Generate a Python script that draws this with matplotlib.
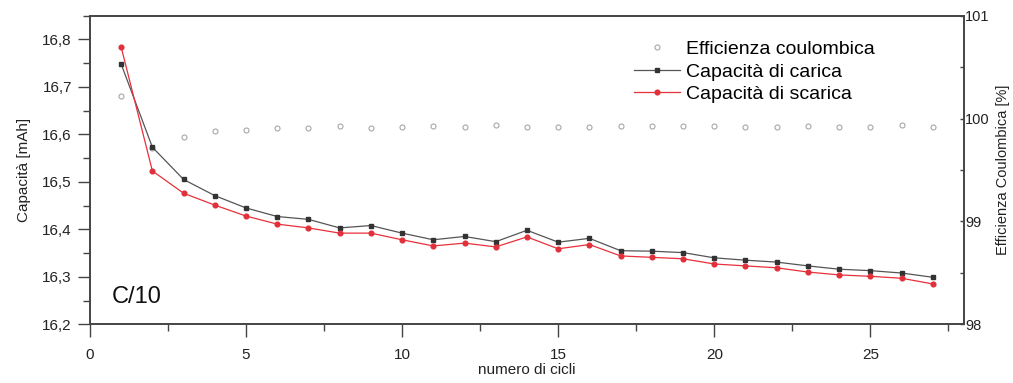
import numpy as np
import matplotlib.pyplot as plt
from matplotlib.ticker import MultipleLocator, FuncFormatter

plt.rcParams['font.family'] = ['Liberation Sans', 'DejaVu Sans']

# cycling data at C/10
cicli = list(range(1, 28))
carica = [16.748, 16.573, 16.505, 16.471, 16.445, 16.427, 16.421, 16.403, 16.408,
          16.392, 16.378, 16.385, 16.374, 16.398, 16.373, 16.381, 16.355, 16.354,
          16.351, 16.340, 16.335, 16.331, 16.323, 16.316, 16.313, 16.308, 16.299]
scarica = [16.784, 16.523, 16.476, 16.451, 16.428, 16.411, 16.403, 16.392, 16.392,
           16.378, 16.365, 16.371, 16.363, 16.384, 16.359, 16.368, 16.344, 16.341,
           16.338, 16.327, 16.323, 16.319, 16.310, 16.304, 16.301, 16.297, 16.285]
efficienza = [100.216, 99.71, 99.823, 99.879, 99.891, 99.905, 99.905, 99.93, 99.905,
              99.92, 99.924, 99.915, 99.934, 99.917, 99.92, 99.92, 99.93, 99.924,
              99.927, 99.927, 99.92, 99.92, 99.93, 99.92, 99.92, 99.937, 99.917]

comma = FuncFormatter(lambda v, p: ('%.1f' % v).replace('.', ','))

fig = plt.figure(figsize=(10.13, 3.83), dpi=100)
ax = fig.add_axes([0.0888, 0.1533, 0.8628, 0.8057])
ax2 = ax.twinx()

ax.set_zorder(ax2.get_zorder() + 1)
ax.patch.set_visible(False)

eff, = ax2.plot(cicli, efficienza, linestyle='', marker='o', ms=3.6, mfc='white',
                mec='#a8a8a8', mew=0.8, label='Efficienza coulombica')
l1, = ax.plot(cicli, carica, color='#555555', lw=0.9, marker='s', ms=3.2,
              mfc='#333333', mec='#333333', label='Capacità di carica')
l2, = ax.plot(cicli, scarica, color='#e8303a', lw=0.9, marker='o', ms=3.4,
              mfc='#e0303a', mec='#e0303a', label='Capacità di scarica')

ax.set_xlim(0, 28)
ax.set_ylim(16.2, 16.85)
ax2.set_ylim(98, 101)

ax.xaxis.set_major_locator(MultipleLocator(5))
ax.xaxis.set_minor_locator(MultipleLocator(2.5))
ax.yaxis.set_major_locator(MultipleLocator(0.1))
ax.yaxis.set_minor_locator(MultipleLocator(0.05))
ax.yaxis.set_major_formatter(comma)
ax2.yaxis.set_major_locator(MultipleLocator(1))
ax2.yaxis.set_minor_locator(MultipleLocator(0.5))

ax.tick_params(axis='both', which='major', direction='out', length=9, width=1,
               color='#444444', labelsize=11, labelcolor='#222222')
ax.tick_params(axis='both', which='minor', direction='out', length=5, width=1,
               color='#444444')
ax.tick_params(axis='x', which='major', pad=8)
ax.tick_params(axis='y', which='major', pad=4)
ax2.tick_params(axis='y', which='both', direction='in', length=3, width=1,
                color='#444444', labelsize=10.5, labelcolor='#222222', pad=1)

for a in (ax, ax2):
    for s in a.spines.values():
        s.set_color('#444444')
        s.set_linewidth(1.2)

ax.set_xlabel('numero di cicli', fontsize=11, color='#222222', labelpad=1)
ax.set_ylabel('Capacità [mAh]', fontsize=11, color='#222222', labelpad=8)
ax2.set_ylabel('Efficienza Coulombica [%]', fontsize=10.5, color='#222222')
ax2.yaxis.set_label_coords(1.037, 0.5)

ax.text(0.025, 0.07, 'C/10', transform=ax.transAxes, fontsize=17, color='#111111')

ax.legend(handles=[eff, l1, l2], loc='upper left', bbox_to_anchor=(0.612, 0.93),
          bbox_transform=fig.transFigure, frameon=False, fontsize=14,
          handlelength=2.4, handletextpad=0.3, labelspacing=0.25, borderpad=0.2)

fig.savefig('out.png', dpi=100)
